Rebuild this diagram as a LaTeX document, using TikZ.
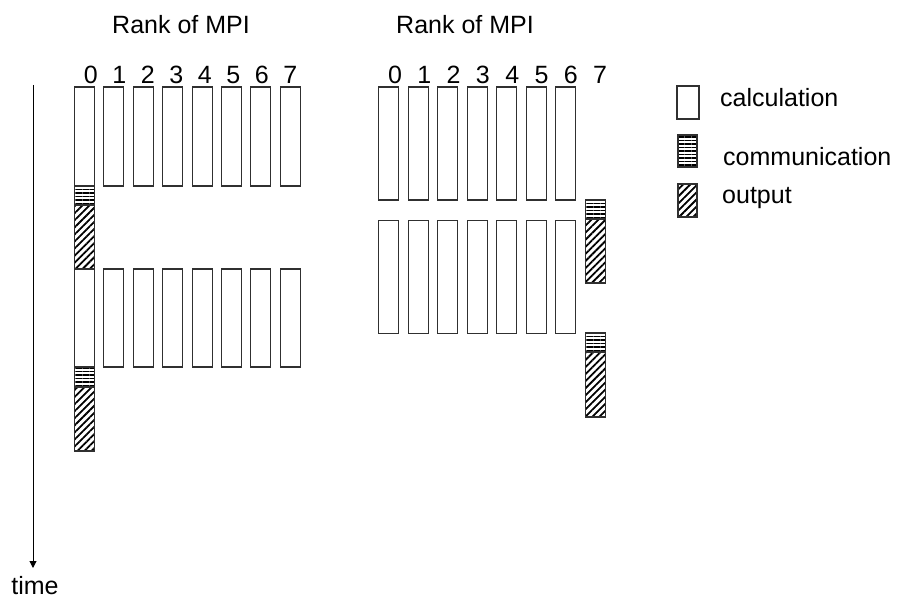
\documentclass[tikz,border=0pt]{standalone}
\usepackage{fontspec}
\setmainfont{Liberation Sans}
\usetikzlibrary{arrows.meta,patterns.meta}
\definecolor{barline}{HTML}{303030}

\begin{document}
\begin{tikzpicture}[x=1pt, y=-1pt,
    calcbar/.style={draw=barline, line width=1.1pt, fill=white},
    commbar/.style={draw=barline, line width=1.1pt,
      pattern={Lines[angle=0,distance=3.5pt,line width=1.4pt]}},
    outbar/.style={draw=barline, line width=1.1pt,
      pattern={Lines[angle=45,distance=5pt,line width=1.8pt]}},
    lbl/.style={font=\fontsize{25}{30}\selectfont, inner sep=0pt}]
  \useasboundingbox (0,0) rectangle (900,599);

  %% Time axis
  \coordinate (tstart) at (33,85);
  \coordinate (tend) at (33,568);
  \node[lbl, anchor=base] (timelbl) at (35,594) {time};
  \draw[line width=1pt, -{Triangle[length=7pt,width=7pt]}] (tstart) -- (tend);

  %% Left case: rank 0 does the output itself
  \node[lbl, anchor=base] (rankL) at (181,33.5) {Rank of MPI};
  \foreach \i in {0,...,7} {
    \node[lbl, anchor=base] (dl\i) at ({90.8+28.5*\i},83.3) {\i};
  }
  \draw[calcbar] (74.5,87) rectangle (94.5,186);
  \draw[commbar] (74.5,186) rectangle (94.5,205);
  \draw[outbar] (74.5,205) rectangle (94.5,269);
  \draw[calcbar] (74.5,269) rectangle (94.5,367);
  \draw[commbar] (74.5,367) rectangle (94.5,387);
  \draw[outbar] (74.5,387) rectangle (94.5,451);
  \foreach \i in {1,...,7} {
    \draw[calcbar] ({74.5+29.4*\i},87) rectangle ++(20,99);
    \draw[calcbar] ({74.5+29.4*\i},269) rectangle ++(20,98);
  }

  %% Right case: rank 7 is kept for the output
  \node[lbl, anchor=base] (rankR) at (465,33.5) {Rank of MPI};
  \foreach \i in {0,...,7} {
    \node[lbl, anchor=base] (dr\i) at ({395+29.3*\i},83.3) {\i};
  }
  \foreach \i in {0,...,6} {
    \draw[calcbar] ({378.7+29.5*\i},87) rectangle ++(20,113);
    \draw[calcbar] ({378.7+29.5*\i},220.5) rectangle ++(20,113);
  }
  \draw[commbar] (585.2,200) rectangle (605.2,219);
  \draw[outbar] (585.2,219) rectangle (605.2,283);
  \draw[commbar] (585.2,333) rectangle (605.2,352);
  \draw[outbar] (585.2,352) rectangle (605.2,417);

  %% Legend
  \draw[calcbar] (677,86) rectangle (699,119);
  \node[lbl, anchor=base west] (legcalc) at (720,106.5) {calculation};
  \draw[commbar] (678,135) rectangle (697,167);
  \node[lbl, anchor=base west] (legcomm) at (723,165) {communication};
  \draw[outbar] (678,184) rectangle (697,217);
  \node[lbl, anchor=base west] (legout) at (722,203.5) {output};
\end{tikzpicture}
\end{document}
